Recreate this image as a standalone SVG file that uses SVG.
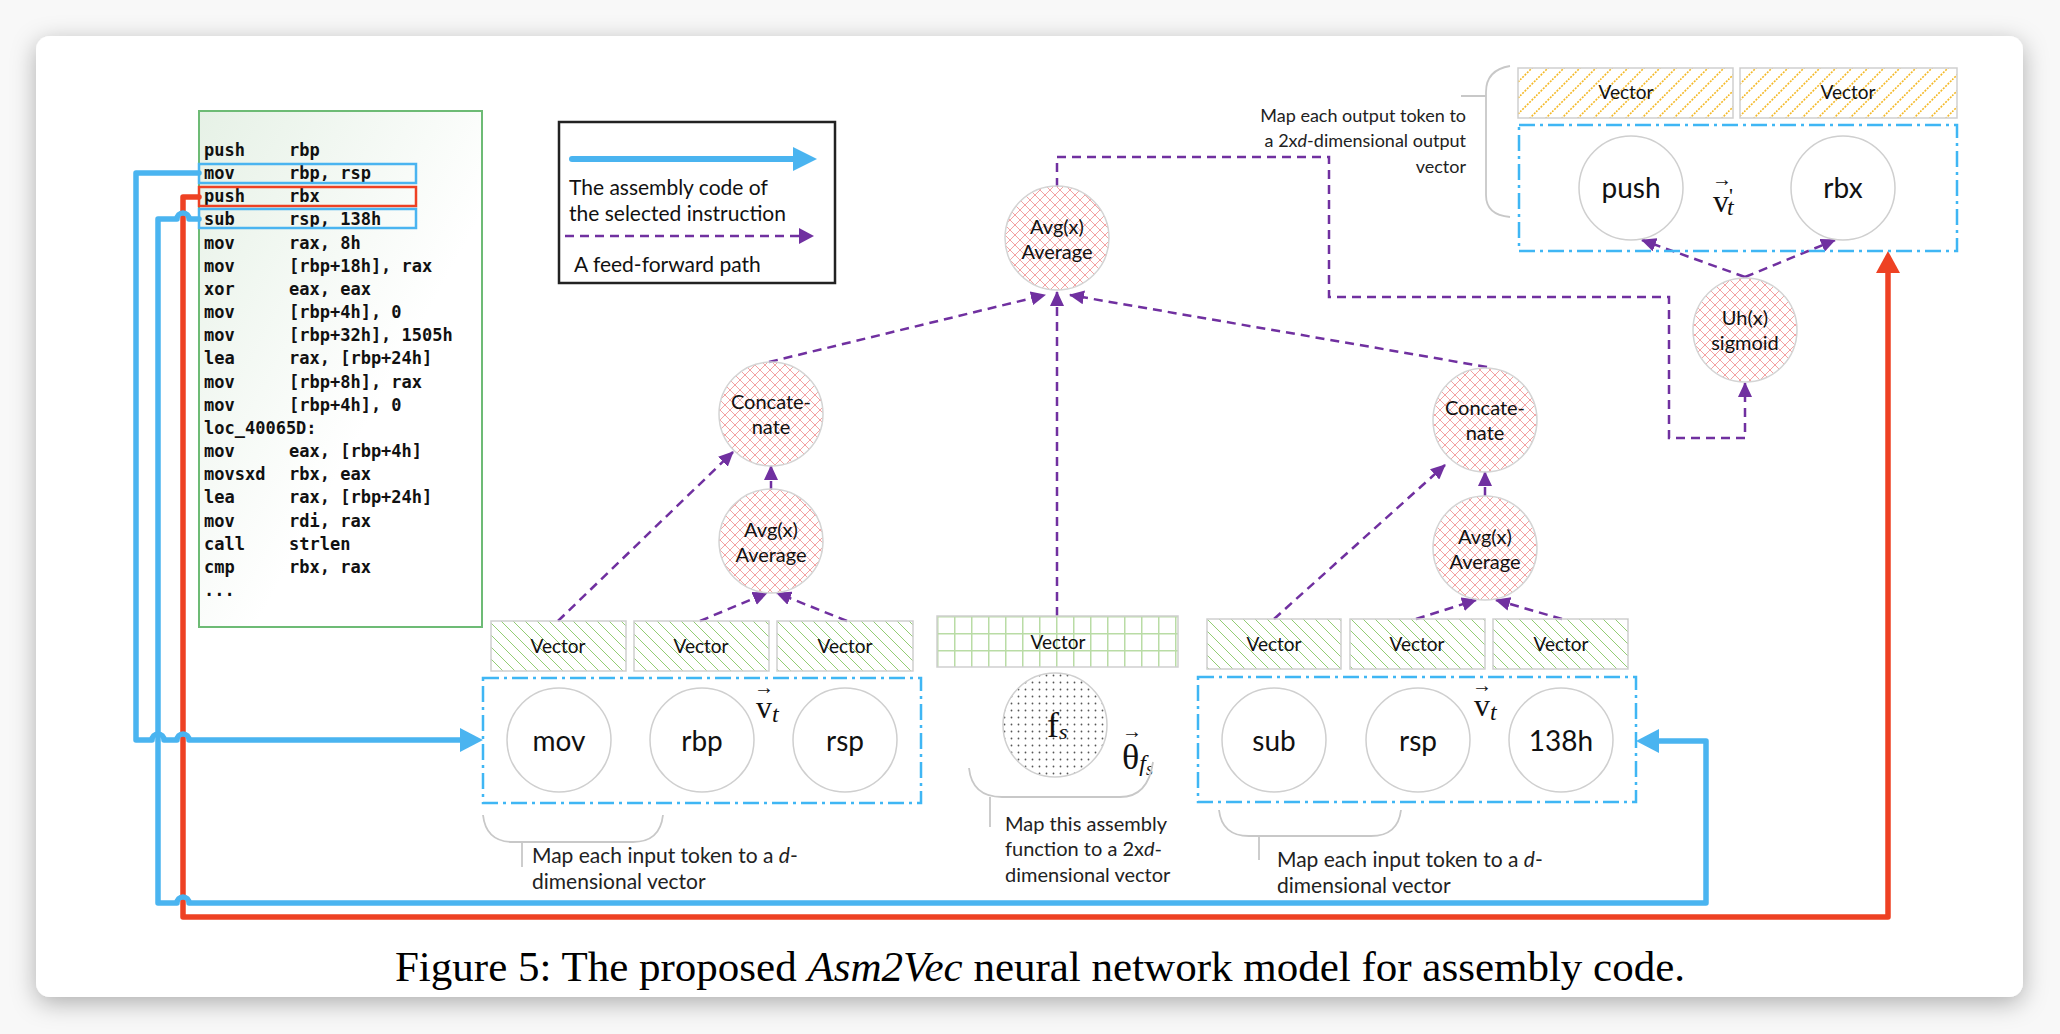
<svg xmlns="http://www.w3.org/2000/svg" width="2060" height="1034" viewBox="0 0 2060 1034">
<defs>
<style>
.lbl{font-family:Lato,"Open Sans","Liberation Sans",sans-serif;fill:#111;font-size:21px}
.tok{font-family:Lato,"Open Sans","Liberation Sans",sans-serif;font-size:28px;fill:#111;text-anchor:middle}
.op{font-family:Lato,"Open Sans","Liberation Sans",sans-serif;font-size:20px;fill:#111;text-anchor:middle}
.vec{font-family:Lato,"Open Sans","Liberation Sans",sans-serif;font-size:19px;fill:#111;text-anchor:middle}
.ann{font-family:Lato,"Open Sans","Liberation Sans",sans-serif;font-size:21px;fill:#222}
.ann2{font-family:Lato,"Open Sans","Liberation Sans",sans-serif;font-size:20px;fill:#222}
.ann3{font-family:Lato,"Open Sans","Liberation Sans",sans-serif;font-size:18px;fill:#222;text-anchor:end}
.code{font-family:"DejaVu Sans Mono","Liberation Mono",monospace;font-size:17px;font-weight:bold;fill:#111}
.math{font-family:"Liberation Serif","DejaVu Serif",serif;fill:#111}
.circ{fill:#fff;stroke:#cfcfcf;stroke-width:1.5}
.hcirc{fill:url(#pinkX);stroke:#d4d4d4;stroke-width:1.5}
.vbox{fill:url(#greenHatch);stroke:#cfcfcf;stroke-width:1.5}
.ybox{fill:url(#yellowHatch);stroke:#cfcfcf;stroke-width:1.5}
.dd{fill:none;stroke:#3fb6f4;stroke-width:2.5;stroke-dasharray:16 5 3 5}
.ff{fill:none;stroke:#7030a0;stroke-width:2.5;stroke-dasharray:9 6;marker-end:url(#pArrow)}
.brace{fill:none;stroke:#c8c8c8;stroke-width:1.8}
.blue{fill:none;stroke:#4ab4f0;stroke-width:5.5;stroke-linejoin:round;stroke-linecap:round}
.red{fill:none;stroke:#ee4123;stroke-width:5.5;stroke-linejoin:round;stroke-linecap:round}
</style>
<pattern id="pinkX" width="10" height="10" patternUnits="userSpaceOnUse">
<path d="M0,0 L10,10 M10,0 L0,10" stroke="#f3a2a2" stroke-width="1"/>
</pattern>
<pattern id="greenHatch" width="12" height="12" patternUnits="userSpaceOnUse">
<path d="M0,0 L12,12 M-3,9 L3,15 M9,-3 L15,3" stroke="#93cd74" stroke-width="1"/>
</pattern>
<pattern id="yellowHatch" width="16" height="16" patternUnits="userSpaceOnUse">
<path d="M0,16 L16,0 M-4,4 L4,-4 M12,20 L20,12" stroke="#f4b928" stroke-width="1.6" stroke-dasharray="2 1.3"/>
</pattern>
<pattern id="greenGrid" x="937" y="616" width="17" height="17" patternUnits="userSpaceOnUse">
<path d="M0,0.75 H17 M0.75,0 V17" stroke="#b9dca5" stroke-width="1.5"/>
</pattern>
<pattern id="dots" width="7" height="7" patternUnits="userSpaceOnUse">
<circle cx="3.5" cy="3.5" r="0.9" fill="#555"/>
</pattern>
<linearGradient id="codeGrad" x1="0" y1="0" x2="1" y2="1">
<stop offset="0" stop-color="#e6f1e6"/>
<stop offset="0.6" stop-color="#ffffff"/>
</linearGradient>
<marker id="pArrow" markerUnits="userSpaceOnUse" markerWidth="15" markerHeight="14" viewBox="0 0 15 14" refX="14" refY="7" orient="auto">
<path d="M0,0 L15,7 L0,14 Z" fill="#7030a0"/>
</marker>
<filter id="shadow" x="-5%" y="-5%" width="110%" height="115%">
<feDropShadow dx="0" dy="6" stdDeviation="12" flood-color="#000" flood-opacity="0.3"/>
</filter>
</defs>

<rect x="0" y="0" width="2060" height="1034" fill="#f8f8f8"/>
<rect x="36" y="36" width="1987" height="961" rx="14" fill="#fff" filter="url(#shadow)"/>

<g id="code">
<rect x="199" y="111" width="283" height="516" fill="url(#codeGrad)" stroke="#6dbb75" stroke-width="2"/>
<text class="code">
<tspan x="204" y="156">push</tspan><tspan x="289" y="156">rbp</tspan>
<tspan x="204" y="179">mov</tspan><tspan x="289" y="179">rbp, rsp</tspan>
<tspan x="204" y="202">push</tspan><tspan x="289" y="202">rbx</tspan>
<tspan x="204" y="225">sub</tspan><tspan x="289" y="225">rsp, 138h</tspan>
<tspan x="204" y="249">mov</tspan><tspan x="289" y="249">rax, 8h</tspan>
<tspan x="204" y="272">mov</tspan><tspan x="289" y="272">[rbp+18h], rax</tspan>
<tspan x="204" y="295">xor</tspan><tspan x="289" y="295">eax, eax</tspan>
<tspan x="204" y="318">mov</tspan><tspan x="289" y="318">[rbp+4h], 0</tspan>
<tspan x="204" y="341">mov</tspan><tspan x="289" y="341">[rbp+32h], 1505h</tspan>
<tspan x="204" y="364">lea</tspan><tspan x="289" y="364">rax, [rbp+24h]</tspan>
<tspan x="204" y="388">mov</tspan><tspan x="289" y="388">[rbp+8h], rax</tspan>
<tspan x="204" y="411">mov</tspan><tspan x="289" y="411">[rbp+4h], 0</tspan>
<tspan x="204" y="434">loc_40065D:</tspan>
<tspan x="204" y="457">mov</tspan><tspan x="289" y="457">eax, [rbp+4h]</tspan>
<tspan x="204" y="480">movsxd</tspan><tspan x="289" y="480">rbx, eax</tspan>
<tspan x="204" y="503">lea</tspan><tspan x="289" y="503">rax, [rbp+24h]</tspan>
<tspan x="204" y="527">mov</tspan><tspan x="289" y="527">rdi, rax</tspan>
<tspan x="204" y="550">call</tspan><tspan x="289" y="550">strlen</tspan>
<tspan x="204" y="573">cmp</tspan><tspan x="289" y="573">rbx, rax</tspan>
<tspan x="204" y="596">...</tspan>
</text>
<rect x="199" y="164" width="217" height="19" fill="none" stroke="#4ab4f0" stroke-width="2.5"/>
<rect x="199" y="187" width="217" height="19" fill="none" stroke="#ee4123" stroke-width="2.5"/>
<rect x="199" y="209" width="217" height="19" fill="none" stroke="#4ab4f0" stroke-width="2.5"/>
</g>

<g id="legend">
<rect x="559" y="122" width="276" height="161" fill="#fff" stroke="#222" stroke-width="2.5"/>
<line x1="572" y1="159" x2="796" y2="159" stroke="#4ab4f0" stroke-width="6" stroke-linecap="round"/>
<polygon points="793,147 817,159 793,171" fill="#4ab4f0"/>
<text class="lbl" x="569" y="195">The assembly code of</text>
<text class="lbl" x="569" y="221">the selected instruction</text>
<line x1="565" y1="236" x2="800" y2="236" stroke="#7030a0" stroke-width="2.5" stroke-dasharray="9 6"/>
<polygon points="799,228 814,236 799,244" fill="#7030a0"/>
<text class="lbl" x="574" y="272">A  feed-forward path</text>
</g>

<g id="connectors">
<path class="red" d="M199,197 H183 V917 H1888 V272"/>
<polygon points="1876,273 1888,251 1900,273" fill="#ee4123"/>
<path class="blue" d="M199,173 H136 V740 H152 A6,6 0 0 1 164,740 H177 A6,6 0 0 1 189,740 H462"/>
<polygon points="460,728 483,740 460,752" fill="#4ab4f0"/>
<path class="blue" d="M199,219 H189 A6,6 0 0 0 177,219 H158 V903 H177 A6,6 0 0 1 189,903 H1706 V741 H1658"/>
<polygon points="1659,729 1636,741 1659,753" fill="#4ab4f0"/>

<path class="ff" d="M558,621 L733,452"/>
<path class="ff" d="M700,621 L767,593"/>
<path class="ff" d="M847,621 L777,593"/>
<path class="ff" d="M771,490 L771,466"/>
<path class="ff" d="M769,362 L1045,295"/>
<path class="ff" d="M1057,616 L1057,292"/>
<path class="ff" d="M1274,619 L1445,465"/>
<path class="ff" d="M1416,619 L1476,600"/>
<path class="ff" d="M1562,619 L1496,600"/>
<path class="ff" d="M1485,496 L1485,472"/>
<path class="ff" d="M1487,367 L1070,295"/>
<path class="ff" d="M1057,187 V157 H1329 V297 H1669 V438 H1745 V383"/>
<path class="ff" d="M1745,277 L1642,240"/>
<path class="ff" d="M1745,277 L1835,240"/>
</g>

<g id="avg-top">
<circle class="hcirc" cx="1057" cy="238" r="52"/>
<text class="op" x="1057" y="234">Avg(x)</text>
<text class="op" x="1057" y="259">Average</text>
</g>

<g id="concat-left">
<circle class="hcirc" cx="771" cy="414" r="52"/>
<text class="op" x="771" y="409">Concate-</text>
<text class="op" x="771" y="434">nate</text>
</g>
<g id="avg-left">
<circle class="hcirc" cx="771" cy="541" r="52"/>
<text class="op" x="771" y="537">Avg(x)</text>
<text class="op" x="771" y="562">Average</text>
</g>
<g id="concat-right">
<circle class="hcirc" cx="1485" cy="420" r="52"/>
<text class="op" x="1485" y="415">Concate-</text>
<text class="op" x="1485" y="440">nate</text>
</g>
<g id="avg-right">
<circle class="hcirc" cx="1485" cy="548" r="52"/>
<text class="op" x="1485" y="544">Avg(x)</text>
<text class="op" x="1485" y="569">Average</text>
</g>
<g id="sigmoid">
<circle class="hcirc" cx="1745" cy="330" r="52"/>
<text class="op" x="1745" y="325">Uh(x)</text>
<text class="op" x="1745" y="350">sigmoid</text>
</g>

<g id="input-left">
<rect class="vbox" x="491" y="621" width="135" height="50"/>
<rect class="vbox" x="634" y="621" width="135" height="50"/>
<rect class="vbox" x="777" y="621" width="136" height="50"/>
<text class="vec" x="558" y="653">Vector</text>
<text class="vec" x="701" y="653">Vector</text>
<text class="vec" x="845" y="653">Vector</text>
<rect class="dd" x="483" y="678" width="438" height="125"/>
<circle class="circ" cx="559" cy="740" r="52"/>
<circle class="circ" cx="702" cy="740" r="52"/>
<circle class="circ" cx="845" cy="740" r="52"/>
<text class="tok" x="559" y="751">mov</text>
<text class="tok" x="702" y="751">rbp</text>
<text class="tok" x="845" y="751">rsp</text>
<text class="math" x="756" y="718" font-size="32">v<tspan font-style="italic" font-size="24" dy="4">t</tspan></text>
<text class="math" x="764" y="694" font-size="20" text-anchor="middle">→</text>
<path class="brace" d="M483,815 Q486,842 513,842 H633 Q660,842 663,815 M522,842 V867"/>
<text class="ann" x="532" y="863">Map each input token to a <tspan font-style="italic">d</tspan>-</text>
<text class="ann" x="532" y="889">dimensional vector</text>
</g>

<g id="function">
<rect x="937" y="616" width="241" height="51" fill="url(#greenGrid)" stroke="#cfcfcf" stroke-width="1.5"/>
<text class="vec" x="1058" y="649">Vector</text>
<circle cx="1055" cy="725" r="52" fill="url(#dots)" stroke="#cfcfcf" stroke-width="1.5"/>
<text class="math" x="1047" y="737" font-size="36">f<tspan font-style="italic" font-size="22" dy="2">s</tspan></text>
<text class="math" x="1122" y="769" font-size="36">θ<tspan font-style="italic" font-size="24" dy="2">f</tspan><tspan font-style="italic" font-size="18" dy="4">s</tspan></text>
<text class="math" x="1132" y="738" font-size="20" text-anchor="middle">→</text>
<path class="brace" d="M969,768 Q972,797 1002,797 H1120 Q1148,797 1153,762 M990,797 V827"/>
<text class="ann2" x="1005" y="831">Map this assembly</text>
<text class="ann2" x="1005" y="856">function to a 2x<tspan font-style="italic">d</tspan>-</text>
<text class="ann2" x="1005" y="882">dimensional vector</text>
</g>

<g id="input-right">
<rect class="vbox" x="1207" y="619" width="134" height="50"/>
<rect class="vbox" x="1350" y="619" width="135" height="50"/>
<rect class="vbox" x="1493" y="619" width="135" height="50"/>
<text class="vec" x="1274" y="651">Vector</text>
<text class="vec" x="1417" y="651">Vector</text>
<text class="vec" x="1561" y="651">Vector</text>
<rect class="dd" x="1198" y="677" width="438" height="125"/>
<circle class="circ" cx="1274" cy="740" r="52"/>
<circle class="circ" cx="1418" cy="740" r="52"/>
<circle class="circ" cx="1561" cy="740" r="52"/>
<text class="tok" x="1274" y="751">sub</text>
<text class="tok" x="1418" y="751">rsp</text>
<text class="tok" x="1561" y="751">138h</text>
<text class="math" x="1474" y="716" font-size="32">v<tspan font-style="italic" font-size="24" dy="4">t</tspan></text>
<text class="math" x="1482" y="692" font-size="20" text-anchor="middle">→</text>
<path class="brace" d="M1219,810 Q1222,836 1249,836 H1371 Q1398,836 1401,810 M1259,836 V860"/>
<text class="ann" x="1277" y="867">Map each input token to a <tspan font-style="italic">d</tspan>-</text>
<text class="ann" x="1277" y="893">dimensional vector</text>
</g>

<g id="output">
<rect class="ybox" x="1518" y="68" width="215" height="50"/>
<rect class="ybox" x="1740" y="68" width="217" height="50"/>
<text class="vec" x="1626" y="99">Vector</text>
<text class="vec" x="1848" y="99">Vector</text>
<rect class="dd" x="1519" y="125" width="438" height="126"/>
<circle class="circ" cx="1631" cy="188" r="52"/>
<circle class="circ" cx="1843" cy="188" r="52"/>
<text class="tok" x="1631" y="198">push</text>
<text class="tok" x="1843" y="198">rbx</text>
<text class="math" x="1713" y="212" font-size="32">v<tspan font-size="22" dy="-9">'</tspan><tspan font-style="italic" font-size="24" dx="-6" dy="12">t</tspan></text>
<text class="math" x="1722" y="186" font-size="20" text-anchor="middle">→</text>
<path class="brace" d="M1510,66 Q1486,70 1486,92 V195 Q1486,215 1510,217 M1461,96 H1486"/>
<text class="ann3" x="1466" y="122">Map each output token to</text>
<text class="ann3" x="1466" y="147">a 2x<tspan font-style="italic">d</tspan>-dimensional output</text>
<text class="ann3" x="1466" y="173">vector</text>
</g>

<text x="1040" y="981" font-family="'Liberation Serif','Times New Roman',serif" font-size="43" text-anchor="middle" fill="#000">Figure 5: The proposed <tspan font-style="italic">Asm2Vec</tspan> neural network model for assembly code.</text>
</svg>
